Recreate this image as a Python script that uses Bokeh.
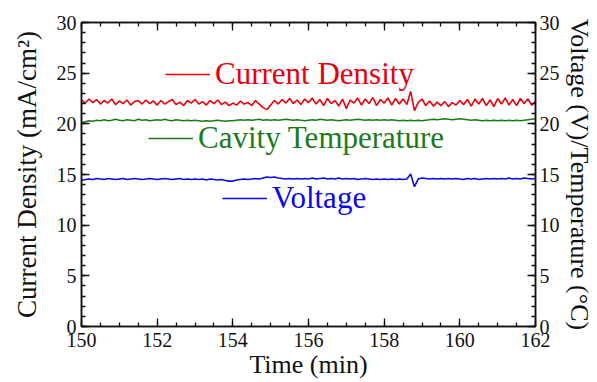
from bokeh.plotting import figure
from bokeh.models import (Range1d, LinearAxis, SingleIntervalTicker, Legend, LegendItem,
                          ColumnDataSource)
from bokeh.embed import file_html
from bokeh.resources import INLINE
import numpy as np

# ---- data ----
time_start = 150.0
time_step = 0.1

current_density = [
    22.35, 22.05, 22.45, 22.10, 22.40, 21.95, 22.30, 22.05, 22.45, 21.90,
    22.25, 22.00, 22.35, 21.85, 22.20, 22.30, 21.95, 22.35, 22.00, 22.25,
    21.85, 22.30, 21.95, 22.20, 22.40, 21.90, 22.15, 21.80, 22.30, 22.05,
    22.40, 21.95, 22.20, 21.85, 22.30, 22.00, 22.35, 21.90, 22.15, 21.80,
    22.05, 21.85, 22.25, 21.95, 22.10, 21.80, 22.30, 21.95, 21.60, 21.40,
    21.85, 22.30, 21.95, 22.40, 22.05, 22.50, 22.00, 22.35, 21.90, 22.45,
    22.10, 22.55, 21.95, 22.40, 21.80, 22.50, 22.00, 22.30, 21.75, 22.45,
    21.50, 22.35, 22.05, 22.55, 21.85, 22.45, 22.00, 22.60, 21.80, 22.40,
    22.05, 22.55, 21.85, 22.50, 21.95, 22.45, 21.90, 23.20, 21.30, 22.10,
    22.45, 21.80, 22.25, 21.75, 22.15, 21.80, 22.20, 21.70, 22.10, 21.85,
    22.30, 21.90, 22.40, 21.75, 22.45, 21.95, 22.50, 21.80, 22.35, 21.70,
    22.50, 21.95, 22.55, 21.85, 22.40, 21.80, 22.50, 22.00, 22.45, 21.85,
    22.20,
]

cavity_temperature = [
    20.10, 20.20, 20.30, 20.25, 20.35, 20.30, 20.40, 20.30, 20.35, 20.45,
    20.35, 20.30, 20.40, 20.35, 20.30, 20.45, 20.35, 20.40, 20.30, 20.35,
    20.40, 20.35, 20.45, 20.35, 20.30, 20.40, 20.35, 20.30, 20.35, 20.30,
    20.35, 20.30, 20.25, 20.30, 20.25, 20.30, 20.35, 20.30, 20.25, 20.30,
    20.30, 20.35, 20.40, 20.35, 20.40, 20.35, 20.40, 20.45, 20.35, 20.40,
    20.35, 20.40, 20.35, 20.40, 20.45, 20.40, 20.35, 20.40, 20.35, 20.30,
    20.35, 20.40, 20.35, 20.45, 20.40, 20.35, 20.40, 20.35, 20.30, 20.35,
    20.40, 20.35, 20.40, 20.45, 20.40, 20.35, 20.40, 20.35, 20.40, 20.35,
    20.40, 20.35, 20.40, 20.35, 20.30, 20.35, 20.30, 20.35, 20.30, 20.35,
    20.30, 20.35, 20.40, 20.45, 20.40, 20.45, 20.50, 20.45, 20.40, 20.45,
    20.50, 20.45, 20.40, 20.35, 20.40, 20.35, 20.30, 20.35, 20.30, 20.35,
    20.30, 20.35, 20.30, 20.35, 20.30, 20.35, 20.30, 20.35, 20.40, 20.45,
    20.50,
]

voltage = [
    14.40, 14.50, 14.55, 14.50, 14.60, 14.55, 14.50, 14.60, 14.55, 14.50,
    14.55, 14.60, 14.50, 14.55, 14.60, 14.55, 14.50, 14.55, 14.60, 14.55,
    14.50, 14.55, 14.60, 14.55, 14.50, 14.55, 14.60, 14.50, 14.55, 14.50,
    14.55, 14.50, 14.55, 14.45, 14.55, 14.50, 14.45, 14.50, 14.40, 14.35,
    14.35, 14.45, 14.50, 14.55, 14.50, 14.55, 14.60, 14.55, 14.65, 14.75,
    14.70, 14.75, 14.65, 14.60, 14.55, 14.60, 14.55, 14.60, 14.55, 14.60,
    14.55, 14.65, 14.55, 14.60, 14.65, 14.55, 14.60, 14.55, 14.65, 14.55,
    14.60, 14.55, 14.60, 14.50, 14.55, 14.60, 14.55, 14.50, 14.55, 14.50,
    14.55, 14.50, 14.55, 14.50, 14.55, 14.50, 14.55, 15.05, 13.80, 14.55,
    14.65, 14.60, 14.55, 14.60, 14.55, 14.60, 14.55, 14.60, 14.55, 14.60,
    14.55, 14.50, 14.60, 14.55, 14.60, 14.50, 14.55, 14.60, 14.55, 14.60,
    14.55, 14.60, 14.55, 14.65, 14.55, 14.60, 14.55, 14.65, 14.60, 14.55,
    14.60,
]

series_names = ["Current Density", "Cavity Temperature", "Voltage"]
series_colors = ["#e8000b", "#1b7a1b", "#0a0ae6"]

x_axis_title = "Time (min)"
y_left_title = "Current Density (mA/cm\u00b2)"
y_right_title = "Voltage (V)/Temperature (\u00b0C)"

# ---- figure ----
FONT = "Liberation Serif"
p = figure(width=597, height=382, output_backend="svg", toolbar_location=None,
           x_range=Range1d(150, 162), y_range=Range1d(0, 30),
           min_border_left=81, min_border_right=62, min_border_top=22, min_border_bottom=56)
p.xgrid.visible = False
p.ygrid.visible = False
p.outline_line_color = "#111111"
p.outline_line_width = 1.5
p.background_fill_color = "white"
p.border_fill_color = "white"

def style_axis(ax, xaxis, show_labels=True):
    ax.ticker = SingleIntervalTicker(interval=2, num_minor_ticks=4) if xaxis else \
        SingleIntervalTicker(interval=5, num_minor_ticks=5)
    ax.axis_line_color = "#111111"
    ax.axis_line_width = 1.5
    ax.major_tick_line_color = "#111111"
    ax.minor_tick_line_color = "#111111"
    ax.major_tick_line_width = 1.3
    ax.minor_tick_line_width = 1.3
    ax.major_tick_in = 8
    ax.major_tick_out = 0
    ax.minor_tick_in = 4
    ax.minor_tick_out = 0
    ax.major_label_text_font = FONT
    ax.major_label_text_font_size = "20px"
    ax.major_label_text_color = "#111111" if show_labels else None
    ax.axis_label_text_font = FONT
    ax.axis_label_text_font_style = "normal"
    ax.axis_label_text_color = "#111111"
    ax.axis_label_text_font_size = "26px"

style_axis(p.xaxis[0], True)
p.xaxis[0].axis_label = x_axis_title
p.xaxis[0].major_label_standoff = 6
p.xaxis[0].axis_label_standoff = 0

style_axis(p.yaxis[0], False)
p.yaxis[0].axis_label = y_left_title
p.yaxis[0].axis_label_text_font_size = "27px"
p.yaxis[0].major_label_standoff = 5
p.yaxis[0].axis_label_standoff = 12

right = LinearAxis()
style_axis(right, False)
right.axis_label = y_right_title
right.major_label_standoff = 4
right.axis_label_standoff = 2
p.add_layout(right, "right")

top = LinearAxis()
style_axis(top, True, show_labels=False)
top.major_label_standoff = 0
p.add_layout(top, "above")

t = np.round(time_start + time_step * np.arange(len(current_density)), 3)
renderers = []
for vals, col in zip([current_density, cavity_temperature, voltage], series_colors):
    src = ColumnDataSource(dict(t=t[:len(vals)], v=vals))
    r = p.line("t", "v", source=src, line_color=col, line_width=1.6)
    renderers.append(r)

# legends placed as in the reference (screen px from frame bottom-left)
legend_locs = [(84, 234), (67, 170), (141, 110)]
for name, col, r, loc in zip(series_names, series_colors, renderers, legend_locs):
    lg = Legend(items=[LegendItem(label=name, renderers=[r])], location=loc,
                padding=0, margin=0, spacing=0, border_line_color=None,
                background_fill_alpha=0, glyph_width=45, glyph_height=20,
                label_standoff=5, label_text_font=FONT, label_text_font_size="31px",
                label_text_color=col)
    p.add_layout(lg)

open("out.html", "w").write(file_html(p, INLINE))
